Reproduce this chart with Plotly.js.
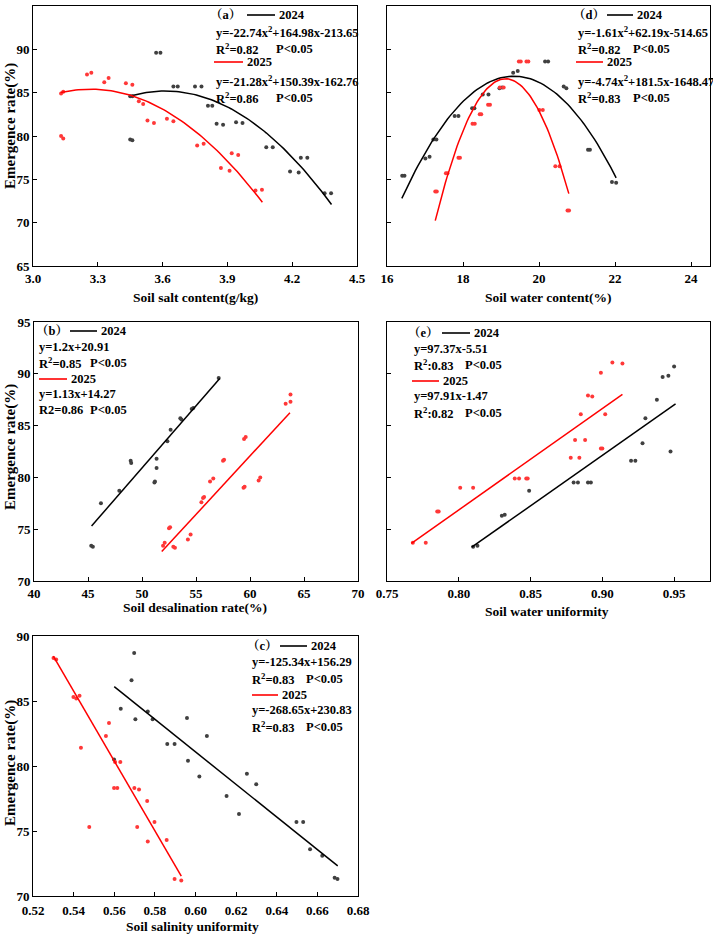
<!DOCTYPE html>
<html>
<head>
<meta charset="utf-8">
<script src="https://cdn.plot.ly/plotly-3.0.1.min.js"></script>
<style>
  html, body { margin: 0; padding: 0; background: #ffffff; }
  #chart { width: 713px; height: 937px; }
</style>
</head>
<body>
<div id="chart"></div>
<script>
// ---------- (a) emergence rate vs soil salt content ----------
const salt2024 = [3.57, 3.59, 3.65, 3.67, 3.75, 3.78, 3.81, 3.83, 3.85, 3.88, 3.94, 3.97,
                  4.08, 4.11, 4.19, 4.23, 4.24, 4.27, 4.35, 4.38, 3.45, 3.46, 3.45, 3.46];
const rateSalt2024 = [89.6, 89.6, 85.7, 85.7, 85.7, 85.7, 83.5, 83.5, 81.4, 81.3, 81.6, 81.5,
                      78.7, 78.7, 75.9, 75.8, 77.5, 77.5, 73.4, 73.4, 84.6, 84.6, 79.6, 79.5];
const salt2025 = [3.13, 3.14, 3.13, 3.14, 3.25, 3.27, 3.33, 3.35, 3.43, 3.46, 3.49, 3.51,
                  3.53, 3.56, 3.62, 3.65, 3.76, 3.79, 3.87, 3.91, 3.92, 3.95, 4.03, 4.06];
const rateSalt2025 = [84.9, 85.1, 80.0, 79.7, 87.1, 87.3, 86.2, 86.7, 86.1, 85.9, 84.0, 83.7,
                      81.8, 81.5, 82.0, 81.7, 78.9, 79.1, 76.3, 76.0, 78.0, 77.8, 73.7, 73.8];
// quadratic fits as [a, h, k]  ->  y = k + a (x - h)^2, with the x span of each fit
const fitSalt2024 = [-22.12, 3.6125, 85.19];
const spanSalt2024 = [3.455, 4.382];
const fitSalt2025 = [-20.6, 3.266, 85.40];
const spanSalt2025 = [3.128, 4.062];

// ---------- (d) emergence rate vs soil water content ----------
const water2024 = [16.40, 16.46, 17.01, 17.12, 17.22, 17.30, 17.78, 17.88, 18.24, 18.30, 18.52, 18.67,
                   18.96, 19.03, 19.32, 19.44, 20.16, 20.24, 20.65, 20.72, 21.29, 21.34, 21.92, 22.03];
const rateWater2024 = [75.4, 75.4, 77.4, 77.6, 79.6, 79.6, 82.3, 82.3, 83.2, 83.2, 84.8, 84.8,
                       85.5, 85.6, 87.3, 87.5, 88.6, 88.6, 85.7, 85.5, 78.4, 78.4, 74.7, 74.6];
const water2025 = [17.27, 17.31, 17.55, 17.59, 17.88, 17.92, 18.25, 18.31, 18.44, 18.48, 18.66, 18.71,
                   18.97, 19.07, 19.47, 19.52, 19.67, 19.72, 20.01, 20.10, 20.43, 20.54, 20.75, 20.79];
const rateWater2025 = [73.6, 73.6, 75.7, 75.7, 77.5, 77.5, 81.4, 81.4, 82.5, 82.5, 83.6, 83.6,
                       85.6, 85.6, 88.6, 88.6, 88.6, 88.6, 83.0, 83.0, 76.5, 76.5, 71.4, 71.4];
const fitWater2024 = [-1.62, 19.34, 86.9];
const spanWater2024 = [16.39, 22.03];
const fitWater2025 = [-4.78, 19.12, 86.6];
const spanWater2025 = [17.27, 20.785];

// ---------- (b) emergence rate vs soil desalination rate ----------
const desal2024 = [45.3, 45.45, 46.2, 47.9, 48.95, 49.0, 51.15, 51.2, 51.35, 51.35, 52.35, 52.65,
                   53.55, 53.65, 54.6, 54.75, 57.1];
const rateDesal2024 = [73.4, 73.3, 77.5, 78.7, 81.6, 81.4, 79.5, 79.6, 80.9, 81.8, 83.5, 84.6,
                       85.7, 85.6, 86.6, 86.7, 89.6];
const desal2025 = [51.95, 52.1, 52.9, 53.05, 52.5, 52.6, 54.25, 54.5, 55.5, 55.65, 55.75, 56.3, 56.6,
                   57.5, 57.6, 59.4, 59.5, 59.45, 59.6, 60.8, 60.95, 63.3, 63.75, 63.75];
const rateDesal2025 = [73.4, 73.7, 73.3, 73.2, 75.1, 75.2, 74.0, 74.5, 77.6, 78.0, 78.1, 79.6, 79.9,
                       81.6, 81.7, 79.0, 79.1, 83.7, 83.9, 79.7, 80.0, 87.1, 87.3, 88.0];
// linear fits as [slope, intercept]
const fitDesal2024 = [1.2, 20.91];
const spanDesal2024 = [45.33, 57.2];
const fitDesal2025 = [1.13, 14.27];
const spanDesal2025 = [51.83, 63.7];

// ---------- (e) emergence rate vs soil water uniformity ----------
const wu2024 = [0.810, 0.813, 0.830, 0.832, 0.849, 0.880, 0.883, 0.890, 0.892, 0.920, 0.923,
                0.928, 0.930, 0.938, 0.9475, 0.942, 0.946, 0.950];
const rateWU2024 = [73.3, 73.4, 76.3, 76.4, 78.7, 79.5, 79.5, 79.5, 79.5, 81.6, 81.6,
                    83.3, 85.7, 87.5, 82.5, 89.7, 89.8, 90.7];
const wu2025 = [0.768, 0.777, 0.785, 0.786, 0.801, 0.810, 0.839, 0.842, 0.847, 0.848, 0.878, 0.884,
                0.881, 0.888, 0.899, 0.900, 0.885, 0.902, 0.890, 0.893, 0.899, 0.907, 0.914];
const rateWU2025 = [73.7, 73.7, 76.7, 76.7, 79.0, 79.0, 79.9, 79.9, 79.9, 79.9, 81.9, 81.9,
                    83.6, 83.6, 82.8, 82.8, 86.1, 86.1, 87.9, 87.8, 90.1, 91.1, 91.0];
const fitWU2024 = [97.37, -5.51];
const spanWU2024 = [0.809, 0.951];
const fitWU2025 = [97.91, -1.47];
const spanWU2025 = [0.767, 0.914];

// ---------- (c) emergence rate vs soil salinity uniformity ----------
const su2024 = [0.5698, 0.5685, 0.5632, 0.5704, 0.5765, 0.5789, 0.5958, 0.6056, 0.5861, 0.5897,
                0.5963, 0.6019, 0.6153, 0.6214, 0.6253, 0.6299, 0.6497, 0.6530, 0.6564, 0.6624,
                0.6685, 0.6699, 0.5599];
const rateSU2024 = [88.7, 86.6, 84.4, 83.6, 84.2, 83.6, 83.7, 82.3, 81.7, 81.7,
                    80.4, 79.2, 77.7, 76.3, 79.4, 78.6, 75.7, 75.7, 73.6, 73.1,
                    71.4, 71.3, 80.5];
const su2025 = [0.5301, 0.5314, 0.5399, 0.5413, 0.5429, 0.5436, 0.5574, 0.5559, 0.5604, 0.5630,
                0.5599, 0.5615, 0.5699, 0.5722, 0.5762, 0.5477, 0.5713, 0.5798, 0.5765, 0.5858,
                0.5897, 0.5930];
const rateSU2025 = [88.3, 88.2, 85.3, 85.2, 85.4, 81.4, 83.3, 82.3, 80.3, 80.3,
                    78.3, 78.3, 78.3, 78.2, 77.3, 75.3, 75.3, 75.7, 74.2, 74.3,
                    71.3, 71.2];
const fitSU2024 = [-125.34, 156.29];
const spanSU2024 = [0.56, 0.670];
const fitSU2025 = [-268.65, 230.83];
const spanSU2025 = [0.530, 0.593];

// ---------- tick values ----------
const ticksSalt = [3.0, 3.3, 3.6, 3.9, 4.2, 4.5];
const ticksWater = [16, 18, 20, 22, 24];
const ticksDesal = [40, 45, 50, 55, 60, 65, 70];
const ticksWU = [0.75, 0.80, 0.85, 0.90, 0.95];
const ticksSU = [0.52, 0.54, 0.56, 0.58, 0.60, 0.62, 0.64, 0.66, 0.68];
const ticksRate65 = [65, 70, 75, 80, 85, 90, 95];
const ticksRate70 = [70, 75, 80, 85, 90, 95];
const ticksRate90 = [70, 75, 80, 85, 90];

// ---------- drawing ----------
const W = 713, H = 937;
const SERIF = '"Liberation Serif", "Times New Roman", "Noto Serif CJK SC", "Noto Sans CJK SC", serif';
const BLACK_PT = '#404040', RED_PT = '#ff3838';
const BLACK_LN = '#000000', RED_LN = '#ff0000';

const fx = p => p / W;
const fy = p => 1 - p / H;

function quadCurve(v, span) {
  const xs = [], ys = [];
  const n = 80;
  for (let i = 0; i <= n; i++) {
    const x = span[0] + (span[1] - span[0]) * i / n;
    xs.push(x);
    ys.push(v[2] + v[0] * (x - v[1]) * (x - v[1]));
  }
  return { xs, ys };
}
function linCurve(f, span) {
  return { xs: span.slice(), ys: span.map(x => f[0] * x + f[1]) };
}

const traces = [];
function addPanel(ax, pts24, pts25, c24, c25) {
  const xa = 'x' + ax, ya = 'y' + ax;
  traces.push({ type: 'scatter', mode: 'markers', x: pts24[0], y: pts24[1], xaxis: xa, yaxis: ya,
    marker: { color: BLACK_PT, size: 4 }, showlegend: false, hoverinfo: 'skip' });
  traces.push({ type: 'scatter', mode: 'markers', x: pts25[0], y: pts25[1], xaxis: xa, yaxis: ya,
    marker: { color: RED_PT, size: 4 }, showlegend: false, hoverinfo: 'skip' });
  traces.push({ type: 'scatter', mode: 'lines', x: c24.xs, y: c24.ys, xaxis: xa, yaxis: ya,
    line: { color: BLACK_LN, width: 1.5 }, showlegend: false, hoverinfo: 'skip' });
  traces.push({ type: 'scatter', mode: 'lines', x: c25.xs, y: c25.ys, xaxis: xa, yaxis: ya,
    line: { color: RED_LN, width: 1.5 }, showlegend: false, hoverinfo: 'skip' });
}

addPanel('', [salt2024, rateSalt2024], [salt2025, rateSalt2025],
  quadCurve(fitSalt2024, spanSalt2024), quadCurve(fitSalt2025, spanSalt2025));
addPanel('2', [water2024, rateWater2024], [water2025, rateWater2025],
  quadCurve(fitWater2024, spanWater2024), quadCurve(fitWater2025, spanWater2025));
addPanel('3', [desal2024, rateDesal2024], [desal2025, rateDesal2025],
  linCurve(fitDesal2024, spanDesal2024), linCurve(fitDesal2025, spanDesal2025));
addPanel('4', [wu2024, rateWU2024], [wu2025, rateWU2025],
  linCurve(fitWU2024, spanWU2024), linCurve(fitWU2025, spanWU2025));
addPanel('5', [su2024, rateSU2024], [su2025, rateSU2025],
  linCurve(fitSU2024, spanSU2024), linCurve(fitSU2025, spanSU2025));

const tickFont = { family: SERIF, size: 13, color: '#000', weight: 'bold' };
function axis(domPx, isY, range, vals, fmt, anchor, showLabels) {
  const dom = isY ? [fy(domPx[1]), fy(domPx[0])] : [fx(domPx[0]), fx(domPx[1])];
  return {
    domain: dom, range: range, anchor: anchor,
    tickmode: 'array', tickvals: vals, ticktext: vals.map(fmt),
    showticklabels: showLabels,
    ticks: 'inside', ticklen: 4, tickwidth: 1, tickcolor: '#000',
    showline: true, linecolor: '#000', linewidth: 1, mirror: true,
    showgrid: false, zeroline: false, fixedrange: true,
    tickfont: tickFont
  };
}
const f1 = v => v.toFixed(1), f0 = v => v.toFixed(0), f2 = v => v.toFixed(2);

const layout = {
  width: W, height: H,
  margin: { l: 0, r: 0, t: 0, b: 0 },
  paper_bgcolor: '#ffffff', plot_bgcolor: '#ffffff',
  showlegend: false,
  xaxis:  axis([33, 357], false, [3.0, 4.5], ticksSalt, f1, 'y', true),
  yaxis:  axis([6, 266], true, [65, 95], ticksRate65, f0, 'x', true),
  xaxis2: axis([387, 710], false, [16, 24.5], ticksWater, f0, 'y2', true),
  yaxis2: axis([6, 266], true, [65, 95], ticksRate65, f0, 'x2', false),
  xaxis3: axis([34, 358], false, [40, 70], ticksDesal, f0, 'y3', true),
  yaxis3: axis([322, 581], true, [70, 95], ticksRate70, f0, 'x3', true),
  xaxis4: axis([387, 710], false, [0.75, 0.975], ticksWU, f2, 'y4', true),
  yaxis4: axis([322, 581], true, [70, 95], ticksRate70, f0, 'x4', false),
  xaxis5: axis([33, 358], false, [0.52, 0.68], ticksSU, f2, 'y5', true),
  yaxis5: axis([636, 896], true, [70, 90], ticksRate90, f0, 'x5', true),
  annotations: [],
  shapes: []
};
// keep the bottom-left corner labels of panel (c) apart
layout.xaxis5.ticklabelstandoff = 2;

function txt(x, y, s, size, angle, anchor) {
  layout.annotations.push({
    xref: 'paper', yref: 'paper', x: fx(x), y: fy(y), text: s,
    showarrow: false, xanchor: anchor || 'left', yanchor: 'middle',
    textangle: angle || 0,
    font: { family: SERIF, size: size || 12.5, color: '#000' }
  });
}
function seg(x0, x1, y, color) {
  layout.shapes.push({
    type: 'line', xref: 'paper', yref: 'paper',
    x0: fx(x0), x1: fx(x1), y0: fy(y), y1: fy(y),
    line: { color: color, width: 1.6 }
  });
}

// axis titles
const yTitle = '<b>Emergence rate(%)</b>';
txt(10, 126, yTitle, 15, -90, 'center');
txt(10, 447, yTitle, 15, -90, 'center');
txt(10, 763, yTitle, 15, -90, 'center');
txt(195, 297, '<b>Soil salt content(g/kg)</b>', 13.5, 0, 'center');
txt(548, 297, '<b>Soil water content(%)</b>', 13.5, 0, 'center');
txt(195, 607, '<b>Soil desalination rate(%)</b>', 13.5, 0, 'center');
txt(547, 611, '<b>Soil water uniformity</b>', 13.5, 0, 'center');
txt(192, 926, '<b>Soil salinity uniformity</b>', 13.5, 0, 'center');

// fit legends and equations
function fitBlock(o) {
  txt(o.tagX, o.y[0], '<b>（' + o.tag + '）</b>');
  seg(o.l1[0], o.l1[1], o.y[0], BLACK_LN);
  txt(o.l1[1] + 2, o.y[0], '<b>2024</b>');
  txt(o.x, o.y[1], '<b>' + o.eq1 + '</b>');
  txt(o.x, o.y[2], '<b>' + o.r1 + '</b>');
  txt(o.px, o.y[2], '<b>P&lt;0.05</b>');
  seg(o.l2[0], o.l2[1], o.y[3], RED_LN);
  txt(o.l2[1] + 2, o.y[3], '<b>2025</b>');
  txt(o.x, o.y[4], '<b>' + o.eq2 + '</b>');
  txt(o.x, o.y[5], '<b>' + o.r2 + '</b>');
  txt(o.px, o.y[5], '<b>P&lt;0.05</b>');
}

fitBlock({ tag: 'a', tagX: 208, x: 214, px: 274, y: [15, 32, 49, 62, 81, 98],
  l1: [247, 275], l2: [214, 243],
  eq1: 'y=-22.74x<sup>2</sup>+164.98x-213.65', r1: 'R<sup>2</sup>=0.82',
  eq2: 'y=-21.28x<sup>2</sup>+150.39x-162.76', r2: 'R<sup>2</sup>=0.86' });
fitBlock({ tag: 'd', tagX: 571, x: 576, px: 631, y: [15, 32, 49, 62, 81, 98],
  l1: [607, 633], l2: [576, 603],
  eq1: 'y=-1.61x<sup>2</sup>+62.19x-514.65', r1: 'R<sup>2</sup>=0.82',
  eq2: 'y=-4.74x<sup>2</sup>+181.5x-1648.47', r2: 'R<sup>2</sup>=0.83' });
fitBlock({ tag: 'b', tagX: 34, x: 37, px: 88, y: [331, 347, 363, 379, 394, 410],
  l1: [70, 97], l2: [39, 67],
  eq1: 'y=1.2x+20.91', r1: 'R<sup>2</sup>=0.85',
  eq2: 'y=1.13x+14.27', r2: 'R2=0.86' });
fitBlock({ tag: 'e', tagX: 406, x: 412, px: 463, y: [333, 349, 365, 381, 396, 413],
  l1: [442, 470], l2: [412, 439],
  eq1: 'y=97.37x-5.51', r1: 'R<sup>2</sup>:0.83',
  eq2: 'y=97.91x-1.47', r2: 'R<sup>2</sup>:0.82' });
fitBlock({ tag: 'c', tagX: 245, x: 250, px: 304, y: [646, 662, 679, 695, 710, 727],
  l1: [280, 307], l2: [252, 278],
  eq1: 'y=-125.34x+156.29', r1: 'R<sup>2</sup>=0.83',
  eq2: 'y=-268.65x+230.83', r2: 'R<sup>2</sup>=0.83' });

Plotly.newPlot('chart', traces, layout, { staticPlot: true, displayModeBar: false });
</script>
</body>
</html>
